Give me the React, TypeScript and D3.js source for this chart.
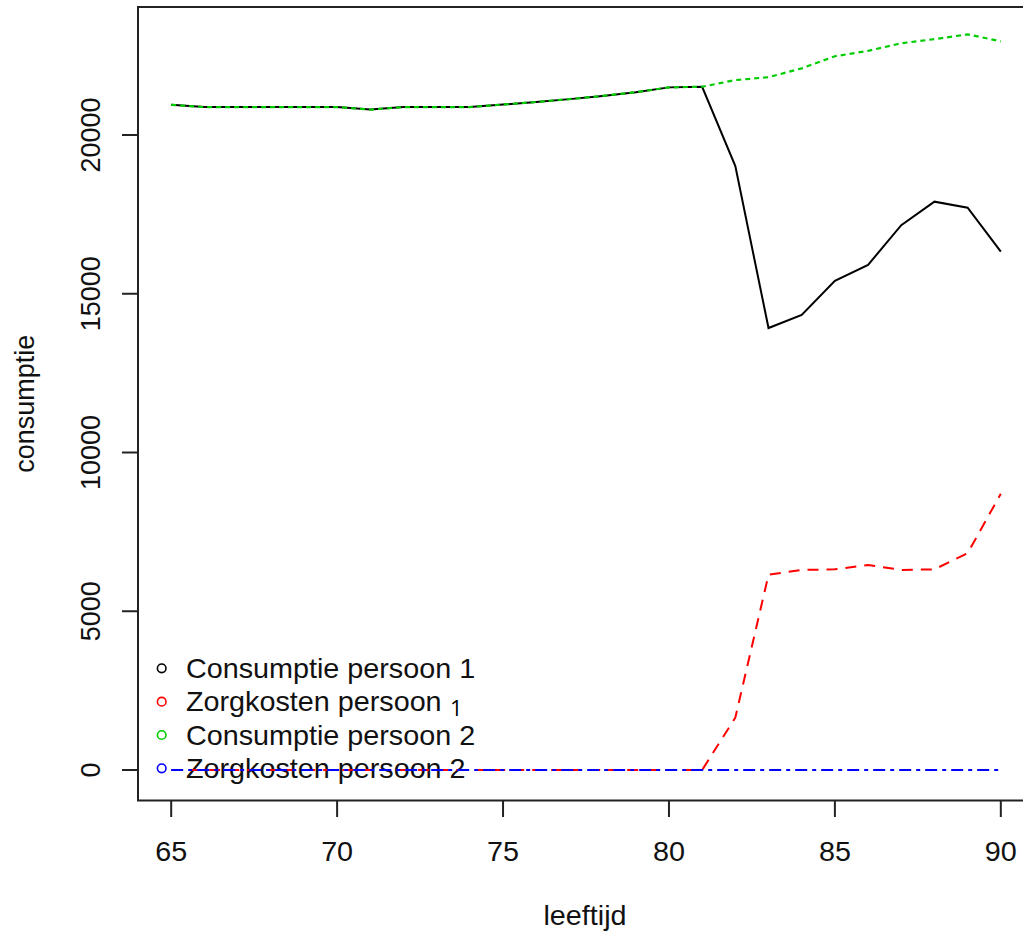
import React from "react";
import * as d3 from "d3";

const ages = [65, 66, 67, 68, 69, 70, 71, 72, 73, 74, 75, 76, 77, 78, 79, 80, 81, 82, 83, 84, 85, 86, 87, 88, 89, 90];
const consumptie1 = [20950, 20880, 20880, 20880, 20880, 20880, 20800, 20880, 20880, 20880, 20960, 21040, 21130, 21230, 21350, 21500, 21520, 19020, 13920, 14330, 15410, 15910, 17160, 17900, 17710, 16330];
const consumptie2 = [20950, 20880, 20880, 20880, 20880, 20880, 20800, 20880, 20880, 20880, 20960, 21040, 21130, 21230, 21350, 21500, 21520, 21730, 21820, 22100, 22480, 22650, 22890, 23020, 23170, 22950];
const zorgkosten1 = [0, 0, 0, 0, 0, 0, 0, 0, 0, 0, 0, 0, 0, 0, 0, 0, 0, 1650, 6150, 6300, 6320, 6460, 6300, 6320, 6830, 8700];
const zorgkosten2 = [0, 0, 0, 0, 0, 0, 0, 0, 0, 0, 0, 0, 0, 0, 0, 0, 0, 0, 0, 0, 0, 0, 0, 0, 0, 0];
const xTicks = [65, 70, 75, 80, 85, 90];
const yTicks = [0, 5000, 10000, 15000, 20000];
// the second label's trailing "1" was pasted over in another font in the reference
const legendLabels = ["Consumptie persoon 1", "Zorgkosten persoon", "Consumptie persoon 2", "Zorgkosten persoon 2"];
const overlayLabel = "1";
const legendColors = ["#000000", "#ff0000", "#00cd00", "#0000ff"];

const W = 1023;
const H = 933;
const left = 138;
const right = 1034;
const top = 7;
const bottom = 800.5;
const FONT = "'Liberation Sans', Arial, sans-serif";
const FS = 27;
const SX = 1.065;

export default function App() {
  const x = d3.scaleLinear().domain([64, 91]).range([left, right]);
  const y = d3.scaleLinear().domain([0, 20000]).range([770, 135]);
  const mk = (vals: number[]) =>
    d3.line<number>().x((_, i) => x(ages[i])).y((v) => y(v))(vals) || "";

  const series = [
    { vals: consumptie1, color: legendColors[0], dash: undefined, w: 2 },
    { vals: zorgkosten1, color: legendColors[1], dash: "11,8", w: 2 },
    { vals: consumptie2, color: legendColors[2], dash: "5,4", w: 2.2 },
    { vals: zorgkosten2, color: legendColors[3], dash: "12,5,4,5", w: 2 },
  ];
  const legY = [668.3, 701.7, 735, 768.3];

  return (
    <svg width={W} height={H} style={{ position: "absolute", left: 0, top: 0, background: "#fff" }} fontFamily={FONT}>
      <rect x={0} y={0} width={W} height={H} fill="#fff" />
      {/* legend (no box) */}
      {legendLabels.map((lab, i) => (
        <g key={lab}>
          <circle cx={161.7} cy={legY[i]} r={4.3} fill="none" stroke={legendColors[i]} strokeWidth={1.6} />
          <text transform={`translate(186,${legY[i] + 9.5}) scale(${SX},1)`} fontSize={FS} fill="#111">{lab}</text>
        </g>
      ))}
      <text x={450} y={716} fontSize={22} fill="#000" fontFamily="'Open Sans', 'DejaVu Sans', sans-serif">{overlayLabel}</text>
      {/* data lines */}
      {series.map((s, i) => (
        <path key={i} d={mk(s.vals)} fill="none" stroke={s.color} strokeWidth={s.w} strokeDasharray={s.dash} />
      ))}
      {/* box */}
      <path d={`M${right},${top}H${left}V${bottom}H${right}`} fill="none" stroke="#222" strokeWidth={2} />
      {/* x axis */}
      {xTicks.map((t) => (
        <g key={t}>
          <line x1={x(t)} x2={x(t)} y1={bottom} y2={817} stroke="#222" strokeWidth={2} />
          <text transform={`translate(${x(t)},861) scale(${SX},1)`} fontSize={FS} textAnchor="middle" fill="#111">{t}</text>
        </g>
      ))}
      {/* y axis */}
      {yTicks.map((t) => (
        <g key={t}>
          <line x1={left} x2={122} y1={y(t)} y2={y(t)} stroke="#222" strokeWidth={2} />
          <text transform={`translate(100,${y(t)}) rotate(-90)`} fontSize={FS} textAnchor="middle" fill="#111">{t}</text>
        </g>
      ))}
      <text transform={`translate(585,925) scale(${SX},1)`} fontSize={FS} textAnchor="middle" fill="#111">leeftijd</text>
      <text transform={`translate(34,${(top + bottom) / 2}) rotate(-90)`} fontSize={FS} textAnchor="middle" fill="#111">consumptie</text>
    </svg>
  );
}
